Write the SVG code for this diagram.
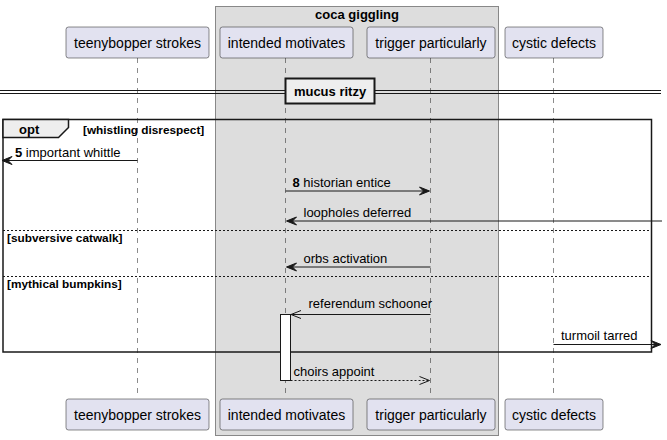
<svg xmlns="http://www.w3.org/2000/svg" width="667" height="440" viewBox="0 0 667 440">
<style>
text{font-family:"Liberation Sans",Arial,sans-serif;fill:#000}
.p{font-size:14px;text-anchor:middle}
.m{font-size:13px}
.b{font-weight:bold}
.c{font-size:11.8px;font-weight:bold}
.pbox{fill:#E2E2F0;stroke:#181818;stroke-width:0.5}
.life{stroke:#181818;stroke-width:0.5;stroke-dasharray:5,5;fill:none}
.msg{stroke:#181818;stroke-width:1;fill:none}
.dash{stroke:#181818;stroke-width:1;stroke-dasharray:2,2;fill:none}
.head{fill:#181818;stroke:#181818;stroke-width:1}
</style>
<rect width="667" height="440" fill="#FFFFFF"/>
<g id="box-coca-giggling">
<rect x="215.5" y="6.5" width="283" height="429" fill="#DDDDDD" stroke="#888888" stroke-width="1"/>
<text x="357" y="19" class="b" font-size="13" text-anchor="middle">coca giggling</text>
</g>
<g id="lifelines">
<line class="life" x1="137.5" y1="58" x2="137.5" y2="398"/>
<line class="life" x1="285.5" y1="58" x2="285.5" y2="398"/>
<line class="life" x1="430.5" y1="58" x2="430.5" y2="398"/>
<line class="life" x1="553.5" y1="58" x2="553.5" y2="398"/>
</g>
<g id="divider-mucus-ritzy">
<line x1="0" y1="90.5" x2="661" y2="90.5" stroke="#181818" stroke-width="1"/>
<line x1="0" y1="93.5" x2="661" y2="93.5" stroke="#181818" stroke-width="1"/>
<rect x="285.5" y="78.5" width="89" height="25" fill="#EEEEEE" stroke="#181818" stroke-width="2"/>
<text x="330" y="96" class="b" font-size="13" text-anchor="middle">mucus ritzy</text>
</g>
<g id="frame-opt">
<rect x="3" y="119.5" width="648.5" height="232.5" fill="none" stroke="#181818" stroke-width="1.5"/>
<polygon points="3,119.5 68.5,119.5 68.5,127.5 58.5,137.5 3,137.5" fill="#EEEEEE" stroke="#181818" stroke-width="1.5"/>
<text x="19" y="134" class="b" font-size="13">opt</text>
<text x="83" y="134" class="c">[whistling disrespect]</text>
<line class="dash" x1="3" y1="230.5" x2="651.5" y2="230.5"/>
<text x="7" y="242" class="c">[subversive catwalk]</text>
<line class="dash" x1="3" y1="276.5" x2="651.5" y2="276.5"/>
<text x="7" y="288" class="c">[mythical bumpkins]</text>
</g>
<g id="activation">
<rect x="280.5" y="314.5" width="10" height="66" fill="#FFFFFF" stroke="#181818" stroke-width="1"/>
</g>
<g id="connectors">
<line class="msg" x1="137.5" y1="160.5" x2="3" y2="160.5"/>
<polygon class="head" points="2,160.5 12,156.5 8,160.5 12,164.5"/>
<text x="15" y="157" class="m"><tspan class="b">5</tspan> important whittle</text>

<line class="msg" x1="285.5" y1="191" x2="428" y2="191"/>
<polygon class="head" points="429.5,191 419.5,187 423.5,191 419.5,195"/>
<text x="292.5" y="187" class="m"><tspan class="b">8</tspan> historian entice</text>

<line class="msg" x1="662" y1="221" x2="288" y2="221"/>
<polygon class="head" points="286.5,221 296.5,217 292.5,221 296.5,225"/>
<text x="303.5" y="217" class="m">loopholes deferred</text>

<line class="msg" x1="430.5" y1="267" x2="288" y2="267"/>
<polygon class="head" points="286.5,267 296.5,263 292.5,267 296.5,271"/>
<text x="303.5" y="263" class="m">orbs activation</text>

<line class="msg" x1="430.5" y1="314.5" x2="291" y2="314.5"/>
<polyline class="msg" points="301,310.5 291,314.5 301,318.5"/>
<text x="308.5" y="308" class="m">referendum schooner</text>

<line class="msg" x1="553.5" y1="344.5" x2="659" y2="344.5"/>
<polygon class="head" points="661,344.5 651,340.5 655,344.5 651,348.5"/>
<text x="561" y="339.5" class="m">turmoil tarred</text>

<line class="msg" x1="290.5" y1="380.5" x2="429" y2="380.5" stroke-dasharray="2,2"/>
<polyline class="msg" points="419.5,376.5 429.5,380.5 419.5,384.5"/>
<text x="293.5" y="376" class="m">choirs appoint</text>
</g>
<g id="p-teenybopper-strokes">
<rect class="pbox" x="66" y="27" width="143" height="31" rx="2.5"/>
<text class="p" x="137.5" y="48">teenybopper strokes</text>
<rect class="pbox" x="66" y="399" width="143" height="31" rx="2.5"/>
<text class="p" x="137.5" y="420">teenybopper strokes</text>
</g>
<g id="p-intended-motivates">
<rect class="pbox" x="220" y="27" width="133" height="31" rx="2.5"/>
<text class="p" x="286.5" y="48">intended motivates</text>
<rect class="pbox" x="220" y="399" width="133" height="31" rx="2.5"/>
<text class="p" x="286.5" y="420">intended motivates</text>
</g>
<g id="p-trigger-particularly">
<rect class="pbox" x="367" y="27" width="128" height="31" rx="2.5"/>
<text class="p" x="431" y="48">trigger particularly</text>
<rect class="pbox" x="367" y="399" width="128" height="31" rx="2.5"/>
<text class="p" x="431" y="420">trigger particularly</text>
</g>
<g id="p-cystic-defects">
<rect class="pbox" x="505" y="27" width="98" height="31" rx="2.5"/>
<text class="p" x="554" y="48">cystic defects</text>
<rect class="pbox" x="505" y="399" width="98" height="31" rx="2.5"/>
<text class="p" x="554" y="420">cystic defects</text>
</g>
</svg>
